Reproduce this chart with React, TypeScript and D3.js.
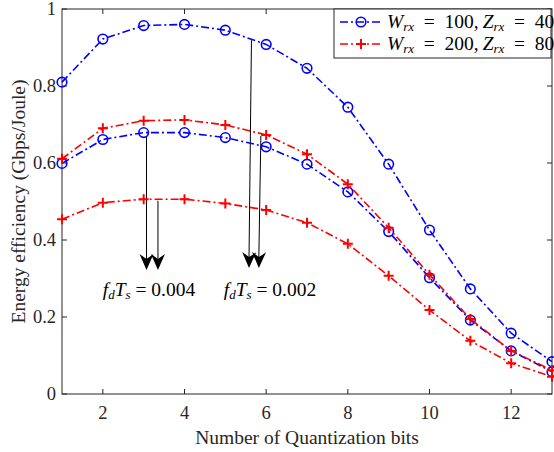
import React from 'react'
import * as d3 from 'd3'

// quantization bits 1..13
const bits = [1, 2, 3, 4, 5, 6, 7, 8, 9, 10, 11, 12, 13]

// W=100, Z=40 (blue) and W=200, Z=80 (red), two Doppler values each
const blueHigh = [0.81, 0.922, 0.957, 0.96, 0.945, 0.908, 0.846, 0.745, 0.597, 0.426, 0.273, 0.158, 0.084]
const blueLow = [0.599, 0.661, 0.679, 0.679, 0.666, 0.642, 0.597, 0.525, 0.422, 0.302, 0.192, 0.112, 0.058]
const redHigh = [0.611, 0.69, 0.71, 0.712, 0.699, 0.673, 0.623, 0.545, 0.432, 0.31, 0.195, 0.112, 0.062]
const redLow = [0.454, 0.497, 0.506, 0.506, 0.495, 0.478, 0.445, 0.39, 0.307, 0.218, 0.138, 0.08, 0.045]

const xTicks = [2, 4, 6, 8, 10, 12]
const yTicks = [0, 0.2, 0.4, 0.6, 0.8, 1]

// arrows [x0, y0, x1, y1] in data units
const arrows004 = [[3.07, 0.67, 3.07, 0.322], [3.35, 0.502, 3.35, 0.322]]
const arrows002 = [[5.64, 0.919, 5.58, 0.327], [5.87, 0.67, 5.82, 0.327]]

const W = 554
const H = 452
const m = { left: 62, right: 552, top: 9, bottom: 394 }
const font = '"Liberation Serif", "Times New Roman", serif'
const dash = '8,3,2,3'

const x = d3.scaleLinear().domain([1, 13]).range([m.left, m.right])
const y = d3.scaleLinear().domain([0, 1]).range([m.bottom, m.top])

const line = d3.line<number>()
  .x((d, i) => x(bits[i]))
  .y(d => y(d))

function Plus({ cx, cy }: { cx: number; cy: number }) {
  return <path d={`M${cx - 5},${cy}H${cx + 5}M${cx},${cy - 5}V${cy + 5}`} stroke="#ff0000" strokeWidth={2} />
}

function Series({ vals, color, marker }: { vals: number[]; color: string; marker: string }) {
  return (
    <g>
      <path d={line(vals) || ''} fill="none" stroke={color} strokeWidth={1.6} strokeDasharray={dash} />
      {vals.map((v, i) =>
        marker === 'o'
          ? <circle key={i} cx={x(bits[i])} cy={y(v)} r={4.8} fill="none" stroke={color} strokeWidth={1.6} />
          : <Plus key={i} cx={x(bits[i])} cy={y(v)} />
      )}
    </g>
  )
}

function Arrow({ a }: { a: number[] }) {
  const x0 = x(a[0]), y0 = y(a[1]), x1 = x(a[2]), y1 = y(a[3])
  const ang = Math.atan2(y1 - y0, x1 - x0) * 180 / Math.PI - 90
  return (
    <g>
      <line x1={x0} y1={y0} x2={x1} y2={y1 - 10} stroke="#000" strokeWidth={1} />
      <path d="M0,0 L-7,-16 L0,-11 L7,-16 Z" fill="#000" transform={`translate(${x1},${y1}) rotate(${ang})`} />
    </g>
  )
}

function MathLabel({ tx, ty, val }: { tx: number; ty: number; val: string }) {
  return (
    <text x={tx} y={ty} fontFamily={font} fontSize={19.5} textAnchor="middle" fill="#000">
      <tspan fontStyle="italic">f</tspan>
      <tspan fontStyle="italic" fontSize={13} dy={3}>d</tspan>
      <tspan fontStyle="italic" dy={-3}>T</tspan>
      <tspan fontStyle="italic" fontSize={13} dy={3}>s</tspan>
      <tspan dy={-3}>{' = '}{val}</tspan>
    </text>
  )
}

function LegendText({ tx, ty, w, z }: { tx: number; ty: number; w: string; z: string }) {
  return (
    <text x={tx} y={ty} fontFamily={font} fontSize={19.5} fill="#000">
      <tspan fontStyle="italic">W</tspan>
      <tspan fontStyle="italic" fontSize={13} dy={3}>rx</tspan>
      <tspan dy={-3}>{'\u2002=\u2002'}{w},{'\u2009'}</tspan>
      <tspan fontStyle="italic">Z</tspan>
      <tspan fontStyle="italic" fontSize={13} dy={3}>rx</tspan>
      <tspan dy={-3}>{'\u2002=\u2002'}{z}</tspan>
    </text>
  )
}

export default function App() {
  const axisColor = '#262626'
  return (
    <svg width={W} height={H} style={{ position: 'absolute', left: 0, top: 0, background: '#fff' }}>
      {/* frame + inward ticks */}
      <rect x={m.left} y={m.top} width={m.right - m.left} height={m.bottom - m.top} fill="none" stroke={axisColor} strokeWidth={1} />
      {xTicks.map(t => (
        <g key={'x' + t}>
          <line x1={x(t)} x2={x(t)} y1={m.bottom} y2={m.bottom - 5} stroke={axisColor} />
          <line x1={x(t)} x2={x(t)} y1={m.top} y2={m.top + 5} stroke={axisColor} />
          <text x={x(t)} y={m.bottom + 25} textAnchor="middle" fontFamily={font} fontSize={18.5} fill={axisColor}>{t}</text>
        </g>
      ))}
      {yTicks.map(t => (
        <g key={'y' + t}>
          <line x1={m.left} x2={m.left + 5} y1={y(t)} y2={y(t)} stroke={axisColor} />
          <line x1={m.right} x2={m.right - 5} y1={y(t)} y2={y(t)} stroke={axisColor} />
          <text x={56} y={y(t) + 6} textAnchor="end" fontFamily={font} fontSize={18.5} fill={axisColor}>{t}</text>
        </g>
      ))}
      <text x={(m.left + m.right) / 2} y={444} textAnchor="middle" fontFamily={font} fontSize={19.5} fill={axisColor}>Number of Quantization bits</text>
      <text transform={`translate(25,${(m.top + m.bottom) / 2}) rotate(-90)`} textAnchor="middle" fontFamily={font} fontSize={19.5} fill={axisColor}>Energy efficiency (Gbps/Joule)</text>

      {/* arrows */}
      {arrows004.map((a, i) => <Arrow key={'a' + i} a={a} />)}
      {arrows002.map((a, i) => <Arrow key={'b' + i} a={a} />)}

      <Series vals={blueHigh} color="#0000ff" marker="o" />
      <Series vals={blueLow} color="#0000ff" marker="o" />
      <Series vals={redHigh} color="#ff0000" marker="+" />
      <Series vals={redLow} color="#ff0000" marker="+" />

      <MathLabel tx={149} ty={296} val="0.004" />
      <MathLabel tx={270} ty={296} val="0.002" />

      {/* legend */}
      <rect x={334} y={m.top} width={217} height={49} fill="#fff" stroke={axisColor} strokeWidth={1} />
      <line x1={340} x2={383} y1={22} y2={22} stroke="#0000ff" strokeWidth={1.6} strokeDasharray={dash} />
      <circle cx={361} cy={22} r={4.8} fill="none" stroke="#0000ff" strokeWidth={1.6} />
      <LegendText tx={387} ty={28} w="100" z="40" />
      <line x1={340} x2={383} y1={44} y2={44} stroke="#ff0000" strokeWidth={1.6} strokeDasharray={dash} />
      <Plus cx={361} cy={44} />
      <LegendText tx={387} ty={50} w="200" z="80" />
    </svg>
  )
}
